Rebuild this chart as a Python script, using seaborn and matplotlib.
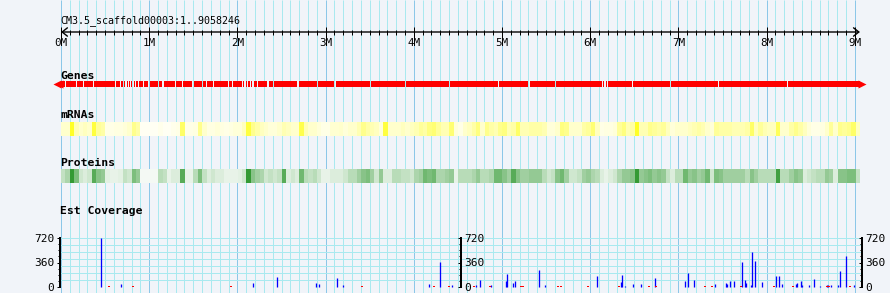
import numpy as np
import matplotlib
matplotlib.use("Agg")
import matplotlib.pyplot as plt
from matplotlib.colors import LinearSegmentedColormap
import seaborn as sns

# ---------------- data ----------------
scaffold_title = "CM3.5_scaffold00003:1..9058246"
seq_len_mb = 9.058246
ruler_major_mb = [0, 1, 2, 3, 4, 5, 6, 7, 8, 9]
ruler_labels = ["0M", "1M", "2M", "3M", "4M", "5M", "6M", "7M", "8M", "9M"]
track_names = ["Genes", "mRNAs", "Proteins", "Est Coverage"]

# breaks between adjacent gene models along the Genes track (Mb)
gene_gaps_mb = [0.045, 0.17, 0.25, 0.36, 0.61, 0.67, 0.70, 0.73, 0.76, 0.78,
                0.81, 0.84, 0.87, 0.93, 0.99, 1.10, 1.15, 1.29, 1.37, 1.49,
                1.60, 1.64, 1.72, 1.89, 1.94, 2.05, 2.08, 2.11, 2.14, 2.17,
                2.22, 2.34, 2.40, 2.68, 2.90, 3.10, 3.50, 3.90, 4.40, 4.95,
                5.30, 5.60, 6.13, 6.16, 6.19, 6.47, 6.90, 7.45, 8.23]

# relative feature density per ~50 kb bin
mrna_density = [
    0.2, 0.2, 0.85, 0.3, 0.2, 0.25, 0.2, 0.75, 0.4, 0.35,
    0.1, 0.1, 0.12, 0.12, 0.15, 0.2, 0.45, 0.35, 0.05, 0.05,
    0.05, 0.05, 0.08, 0.05, 0.05, 0.08, 0.1, 0.6, 0.1, 0.1,
    0.12, 0.45, 0.2, 0.12, 0.12, 0.15, 0.12, 0.1, 0.12, 0.15,
    0.15, 0.25, 0.75, 0.45, 0.35, 0.25, 0.2, 0.15, 0.15, 0.2,
    0.3, 0.25, 0.2, 0.2, 0.7, 0.3, 0.2, 0.2, 0.15, 0.1,
    0.1,
    0.18, 0.18, 0.2, 0.15, 0.2, 0.2, 0.3, 0.45, 0.35, 0.3,
    0.25, 0.15, 0.75, 0.2, 0.2, 0.2, 0.25, 0.2, 0.25, 0.3,
    0.4, 0.35, 0.5, 0.55, 0.4, 0.3, 0.3, 0.55, 0.15, 0.1,
    0.2, 0.25, 0.35, 0.5, 0.2, 0.45, 0.35, 0.3, 0.45, 0.5,
    0.3, 0.35, 0.6, 0.3, 0.3, 0.35, 0.35, 0.35, 0.3, 0.15,
    0.15, 0.2, 0.5, 0.45, 0.2, 0.2, 0.2, 0.35, 0.4, 0.55,
    0.25,
    0.1, 0.12, 0.12, 0.15, 0.4, 0.5, 0.3, 0.35, 0.85,
    0.3, 0.3, 0.45, 0.4, 0.35, 0.4, 0.25, 0.15, 0.2, 0.2,
    0.2, 0.25, 0.3, 0.35, 0.3, 0.2, 0.15, 0.4, 0.35, 0.35,
    0.35, 0.3, 0.3, 0.3, 0.35, 0.6, 0.25, 0.4, 0.3, 0.25,
    0.25, 0.65, 0.2, 0.2, 0.35, 0.45, 0.35, 0.25, 0.15, 0.1,
    0.1, 0.12, 0.2, 0.4, 0.2, 0.45, 0.4, 0.45, 0.6, 0.25,
]
protein_density = [
    0.25, 0.35, 0.85, 0.55, 0.2, 0.15, 0.2, 0.7, 0.5, 0.45,
    0.12, 0.1, 0.1, 0.12, 0.25, 0.2, 0.55, 0.45, 0.05, 0.05,
    0.05, 0.05, 0.3, 0.25, 0.1, 0.15, 0.15, 0.7, 0.1, 0.1,
    0.3, 0.55, 0.25, 0.15, 0.2, 0.15, 0.15, 0.1, 0.1, 0.1,
    0.12, 0.2, 0.85, 0.5, 0.4, 0.35, 0.2, 0.25, 0.2, 0.25,
    0.7, 0.15, 0.2, 0.15, 0.6, 0.3, 0.25, 0.3, 0.2, 0.1,
    0.1,
    0.15, 0.15, 0.15, 0.2, 0.3, 0.3, 0.4, 0.5, 0.55, 0.4,
    0.2, 0.45, 0.15, 0.15, 0.3, 0.3, 0.25, 0.25, 0.2, 0.35,
    0.4, 0.6, 0.55, 0.6, 0.35, 0.35, 0.4, 0.45, 0.1, 0.3,
    0.3, 0.3, 0.35, 0.45, 0.3, 0.3, 0.35, 0.6, 0.6, 0.5,
    0.4, 0.7, 0.5, 0.4, 0.4, 0.45, 0.45, 0.45, 0.3, 0.2,
    0.25, 0.5, 0.6, 0.4, 0.2, 0.2, 0.25, 0.4, 0.45, 0.35,
    0.3,
    0.15, 0.1, 0.15, 0.2, 0.35, 0.45, 0.45, 0.5, 0.85,
    0.45, 0.5, 0.55, 0.45, 0.5, 0.45, 0.25, 0.15, 0.3, 0.3,
    0.6, 0.45, 0.5, 0.4, 0.45, 0.6, 0.2, 0.55, 0.5, 0.4,
    0.4, 0.4, 0.4, 0.4, 0.3, 0.5, 0.4, 0.3, 0.3, 0.3,
    0.3, 0.8, 0.3, 0.3, 0.4, 0.5, 0.45, 0.15, 0.2, 0.25,
    0.3, 0.3, 0.45, 0.4, 0.15, 0.5, 0.5, 0.55, 0.55, 0.25,
]

# EST coverage (forward strand, blue) : position (Mb) and depth
est_fwd_pos = [0.454, 0.684, 2.18, 2.45, 2.895, 2.93, 3.126, 3.20, 4.176, 4.30,
               4.43, 4.70, 4.75, 4.88, 5.05, 5.06, 5.12, 5.15, 5.42, 5.49,
               6.08, 6.35, 6.36, 6.40, 6.48, 6.58, 6.73, 7.08, 7.11, 7.18,
               7.41, 7.54, 7.55, 7.58, 7.63, 7.72, 7.76, 7.77, 7.82, 7.83,
               7.87, 7.95, 8.11, 8.14, 8.18, 8.33, 8.34, 8.39, 8.40, 8.48,
               8.54, 8.61, 8.68, 8.70, 8.73, 8.81, 8.83, 8.90, 8.99]
est_fwd_val = [720, 45, 60, 147, 60, 45, 132, 30, 45, 367,
               30, 30, 103, 30, 88, 191, 60, 88, 250, 30,
               162, 73, 176, 15, 45, 45, 132, 88, 206, 103,
               45, 60, 45, 88, 88, 367, 103, 60, 30, 514,
               382, 73, 162, 162, 45, 45, 60, 88, 30, 30,
               118, 15, 30, 30, 30, 30, 235, 455, 30]
# EST coverage (reverse strand, red) : position (Mb) and depth
est_rev_pos = [0.548, 0.82, 1.93, 3.41, 4.23, 4.40, 4.68, 4.86, 5.22, 5.24,
               5.63, 5.67, 5.98, 6.33, 6.67, 6.75, 7.30, 7.38, 7.71, 8.08,
               8.30, 8.69, 8.71, 8.94, 8.95]
est_rev_val = [12] * len(est_rev_pos)
cov_major_ticks = [0, 360, 720]
cov_tick_labels = ["0", "360", "720"]

# ---------------- layout / style ----------------
W, H, DPI = 890, 293, 100
PX0, PXM = 61.0, 88.2          # pixel of 0 Mb, pixels per Mb
BG = "#f1f4f9"
GRID_MINOR = "#a9e9ef"
GRID_MAJOR = "#8cc7e8"
PX = 72.0 / DPI                 # one pixel in points

plt.rcParams["font.family"] = ["DejaVu Sans Mono", "DejaVu Sans"]

fig = plt.figure(figsize=(W / DPI, H / DPI), dpi=DPI, facecolor=BG)


def mb2px(m):
    return PX0 + PXM * m


def add_ax(mb_a, mb_b, top, bottom):
    return fig.add_axes([mb2px(mb_a) / W, 1 - bottom / H,
                         PXM * (mb_b - mb_a) / W, (bottom - top) / H])


# background axes: x in Mb, y in pixel rows
xl, xr = -PX0 / PXM, (W - PX0) / PXM
bg = add_ax(xl, xr, 0, H)
bg.set_xlim(xl, xr)
bg.set_ylim(H, 0)
bg.set_axis_off()

grid_x = np.round(np.arange(0, 90 + 1) * 0.1, 3)
minor_x = [g for g in grid_x if abs(g - round(g)) > 1e-6]
major_x = [g for g in grid_x if abs(g - round(g)) <= 1e-6]
bg.vlines(minor_x, 0, H, color=GRID_MINOR, lw=PX, zorder=0)
bg.vlines(major_x, 0, H, color=GRID_MAJOR, lw=PX, zorder=0)

# title
bg.text(-0.003, 20.5, scaffold_title, fontsize=7.2, ha="left", va="center")

# ruler
bg.annotate("", xy=(0, 32), xytext=(seq_len_mb, 32),
            arrowprops=dict(arrowstyle="<->,head_length=0.38,head_width=0.3",
                            lw=1.0, color="black", shrinkA=0, shrinkB=0,
                            mutation_scale=10))
bg.vlines(minor_x, 29.5, 34.5, color="black", lw=PX, zorder=3)
bg.vlines(ruler_major_mb, 27, 37.5, color="black", lw=PX, zorder=3)
for m, lab in zip(ruler_major_mb, ruler_labels):
    bg.text(m, 43.5, lab, fontsize=7.8, ha="center", va="center")

# track labels
label_rows = [76, 115.5, 163, 211]
for name, y in zip(track_names, label_rows):
    bg.text(-0.01, y, name, fontsize=8.2, fontweight="bold",
            ha="left", va="center")

# genes track
gaps = np.array(gene_gaps_mb)
gw = 0.014
starts = np.concatenate([[0.0], gaps + gw])
ends = np.concatenate([gaps, [seq_len_mb]])
bg.broken_barh(list(zip(starts, ends - starts)), (81, 6.2),
               facecolors="#ff0000", edgecolor="none", zorder=3)
bg.plot([0 - 0.02], [84.1], marker="<", ms=5.5, color="#ff0000",
        mec="none", zorder=3)
bg.plot([0 - 0.05], [84.1], marker="<", ms=5.5, color="#ff0000",
        mec="none", zorder=3)
bg.plot([seq_len_mb + 0.02], [84.1], marker=">", ms=5.5, color="#ff0000",
        mec="none", zorder=3)

# density heatmaps (seaborn)
yellow_cmap = LinearSegmentedColormap.from_list("y", ["#ffffff", "#ffff00"])
green_cmap = LinearSegmentedColormap.from_list("g", ["#ffffff", "#118811"])
for vals, cmap, (top, bot) in [(mrna_density, yellow_cmap, (121.7, 135.7)),
                               (protein_density, green_cmap, (169.0, 183.4))]:
    hax = add_ax(0, seq_len_mb, top, bot)
    sns.heatmap(np.array(vals)[None, :], ax=hax, cmap=cmap, vmin=0, vmax=1,
                cbar=False, xticklabels=False, yticklabels=False,
                linewidths=0, rasterized=False)
    hax.set_axis_off()

# EST coverage panel
cl, cr = (60 - PX0) / PXM, (862 - PX0) / PXM
mid = (461 - PX0) / PXM
ax_c = add_ax(cl, cr, 238, 287)
ax_c.set_facecolor("none")
ax_c.set_xlim(cl, cr)
ax_c.set_ylim(0, 720)
ax_c.set_xticks([])

hgrid = np.linspace(0, 720, 8)
ax_c.hlines(hgrid[1:-1], cl, cr, color=GRID_MINOR, lw=PX, zorder=1)
ax_c.hlines([720], cl, cr, color=GRID_MINOR, lw=2 * PX, zorder=1)
ax_c.hlines([0], cl, cr, color=GRID_MAJOR, lw=PX, zorder=1)

ax_c.vlines(est_fwd_pos, 0, est_fwd_val, color="#0000ff", lw=1.3 * PX,
            zorder=3, clip_on=False)
ax_c.vlines(est_rev_pos, 0, est_rev_val, color="#ff0000", lw=2 * PX,
            zorder=3, clip_on=False)

for sp in ["top", "bottom", "right"]:
    ax_c.spines[sp].set_visible(False)
ax_c.spines["left"].set_linewidth(2 * PX)
ax_c.set_yticks(cov_major_ticks)
ax_c.set_yticklabels(cov_tick_labels)
ax_c.set_yticks(np.arange(0, 721, 90), minor=True)
ax_c.tick_params(axis="y", which="major", direction="out", length=3.5 * PX,
                 width=PX, labelsize=8, pad=1.5)
ax_c.tick_params(axis="y", which="minor", direction="out", length=2.5 * PX,
                 width=PX)

for pos in [None, mid]:
    tw = ax_c.twinx()
    tw.set_ylim(0, 720)
    for sp in ["top", "bottom", "left"]:
        tw.spines[sp].set_visible(False)
    tw.spines["right"].set_linewidth(2 * PX)
    if pos is not None:
        tw.spines["right"].set_position(("data", pos))
    tw.set_yticks(cov_major_ticks)
    tw.set_yticklabels(cov_tick_labels)
    tw.set_yticks(np.arange(0, 721, 90), minor=True)
    tw.tick_params(axis="y", which="major", direction="in", length=3.5 * PX,
                   width=PX, labelsize=8, pad=2)
    tw.tick_params(axis="y", which="minor", direction="in", length=2.5 * PX,
                   width=PX)

fig.savefig("out.png", dpi=DPI, facecolor=BG)
